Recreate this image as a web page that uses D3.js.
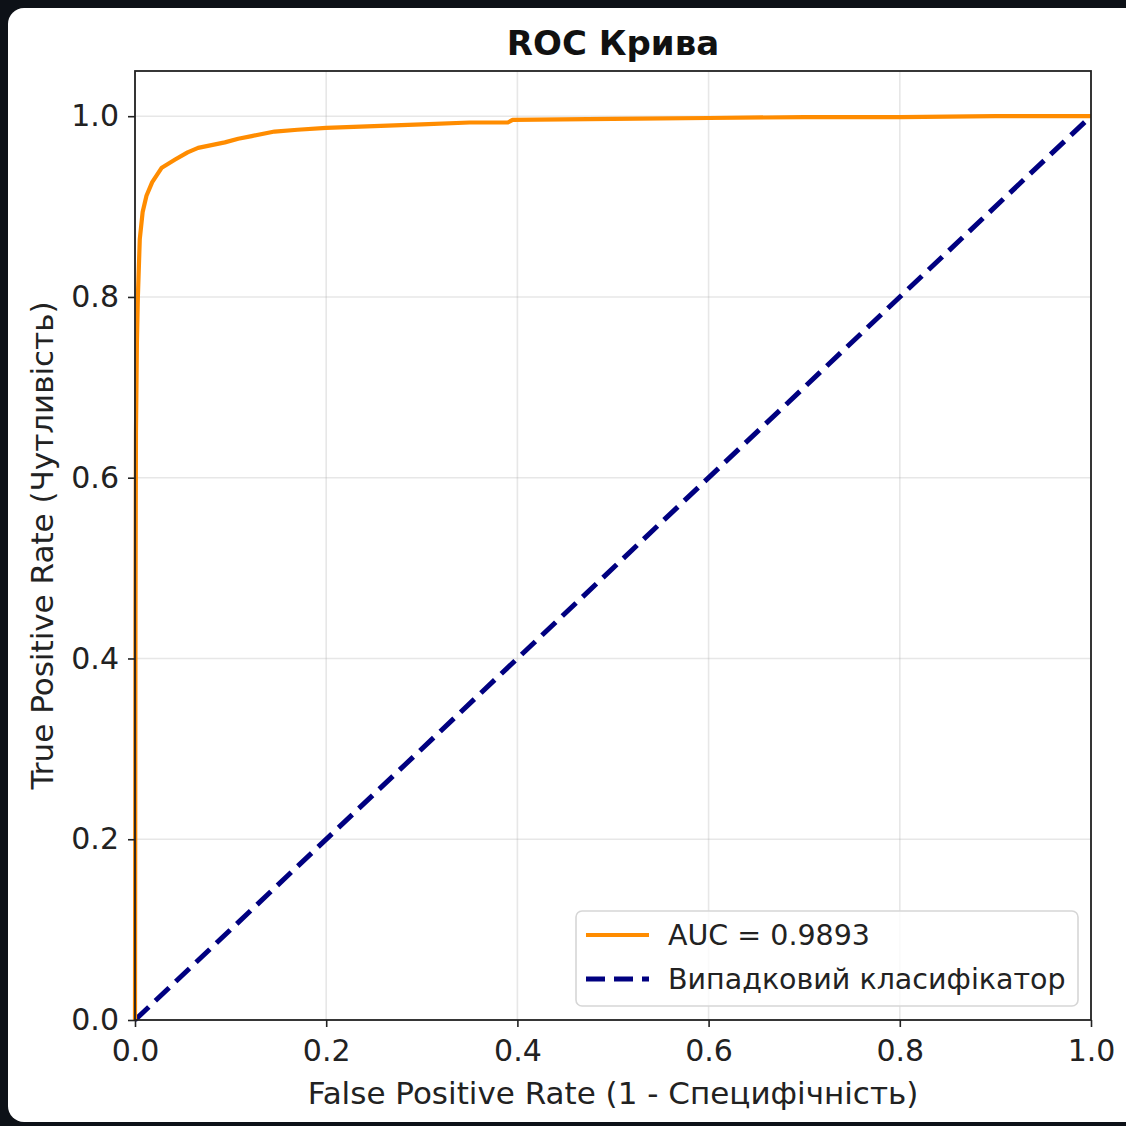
<!DOCTYPE html>
<html>
<head>
<meta charset="utf-8">
<script src="https://cdn.jsdelivr.net/npm/d3@7"></script>
<style>
  html, body { margin: 0; padding: 0; background: #0d1117; }
  svg { display: block; font-family: "DejaVu Sans", sans-serif; }
</style>
</head>
<body>
<div id="chart"></div>
<script>

// ROC curve points
const fpr = [0, 0.0005, 0.001, 0.002, 0.003, 0.005, 0.008, 0.012, 0.018, 0.028, 0.042, 0.055, 0.066, 0.08, 0.094, 0.108, 0.122, 0.146, 0.17, 0.2, 0.25, 0.3, 0.35, 0.39, 0.395, 0.5, 0.6, 0.7, 0.8, 0.9, 1.0];
const tpr = [0, 0.45, 0.65, 0.75, 0.80, 0.864, 0.894, 0.912, 0.927, 0.943, 0.952, 0.96, 0.965, 0.968, 0.971, 0.975, 0.978, 0.983, 0.985, 0.987, 0.989, 0.991, 0.993, 0.993, 0.996, 0.997, 0.998, 0.999, 0.999, 1.0, 1.0];

// random classifier diagonal
const diagX = [0, 1];
const diagY = [0, 1];

const xTicks = [0, 0.2, 0.4, 0.6, 0.8, 1.0];
const yTicks = [0, 0.2, 0.4, 0.6, 0.8, 1.0];

const legendLabels = ["AUC = 0.9893", "Випадковий класифікатор"];
const title = "ROC Крива";
const xLabel = "False Positive Rate (1 - Специфічність)";
const yLabel = "True Positive Rate (Чутливість)";

const W = 1126, H = 1126;
const margin = {left: 135, right: 35, top: 71, bottom: 106};

const svg = d3.select("#chart").append("svg")
	.attr("width", W)
	.attr("height", H);

// white card on dark background
svg.append("rect")
	.attr("x", 8).attr("y", 8)
	.attr("width", W + 20).attr("height", H - 12)
	.attr("rx", 16)
	.attr("fill", "#ffffff");

const sx = d3.scaleLinear()
	.domain([0, 1])
	.range([margin.left, W - margin.right]);

const sy = d3.scaleLinear()
	.domain([0, 1.05])
	.range([H - margin.bottom, margin.top]);

const plot = svg.append("g");

// grid
plot.append("g")
	.selectAll("line.gx")
	.data(xTicks)
	.join("line")
	.attr("x1", d => sx(d)).attr("x2", d => sx(d))
	.attr("y1", sy(0)).attr("y2", sy(1.05))
	.attr("stroke", "#b0b0b0").attr("stroke-opacity", 0.3).attr("stroke-width", 1.6);

plot.append("g")
	.selectAll("line.gy")
	.data(yTicks)
	.join("line")
	.attr("x1", sx(0)).attr("x2", sx(1))
	.attr("y1", d => sy(d)).attr("y2", d => sy(d))
	.attr("stroke", "#b0b0b0").attr("stroke-opacity", 0.3).attr("stroke-width", 1.6);

// diagonal
const line = d3.line().x(d => sx(d[0])).y(d => sy(d[1]));

plot.append("path")
	.datum(diagX.map((x, i) => [x, diagY[i]]))
	.attr("d", line)
	.attr("fill", "none")
	.attr("stroke", "#000080")
	.attr("stroke-width", 5)
	.attr("stroke-dasharray", "19,9");

// ROC curve
plot.append("path")
	.datum(fpr.map((x, i) => [x, tpr[i]]))
	.attr("d", line)
	.attr("fill", "none")
	.attr("stroke", "#ff8c00")
	.attr("stroke-width", 4.2)
	.attr("stroke-linejoin", "round");

// axes
const xAxis = d3.axisBottom(sx)
	.tickValues(xTicks)
	.tickFormat(d3.format(".1f"))
	.tickSize(7)
	.tickPadding(13);

const yAxis = d3.axisLeft(sy)
	.tickValues(yTicks)
	.tickFormat(d3.format(".1f"))
	.tickSize(7)
	.tickPadding(9);

const gx = svg.append("g")
	.attr("transform", `translate(0,${sy(0)})`)
	.call(xAxis);
const gy = svg.append("g")
	.attr("transform", `translate(${sx(0)},0)`)
	.call(yAxis);

[gx, gy].forEach(g => {
	g.select(".domain").remove();
	g.selectAll(".tick line").attr("stroke", "#222").attr("stroke-width", 1.6);
	g.selectAll(".tick text")
		.attr("fill", "#222")
		.style("font-size", "30px")
		.style("font-family", "DejaVu Sans");
});

// frame
svg.append("rect")
	.attr("x", sx(0)).attr("y", sy(1.05))
	.attr("width", sx(1) - sx(0))
	.attr("height", sy(0) - sy(1.05))
	.attr("fill", "none")
	.attr("stroke", "#222")
	.attr("stroke-width", 1.8);

// title and labels
svg.append("text")
	.attr("x", (sx(0) + sx(1)) / 2)
	.attr("y", 55)
	.attr("text-anchor", "middle")
	.style("font-size", "34px")
	.style("font-weight", "bold")
	.attr("fill", "#111")
	.text(title);

svg.append("text")
	.attr("x", (sx(0) + sx(1)) / 2)
	.attr("y", 1104)
	.attr("text-anchor", "middle")
	.style("font-size", "31px")
	.attr("fill", "#222")
	.text(xLabel);

svg.append("text")
	.attr("transform", `translate(53,${(sy(0) + sy(1.05)) / 2}) rotate(-90)`)
	.attr("text-anchor", "middle")
	.style("font-size", "31px")
	.attr("fill", "#222")
	.text(yLabel);

// legend
const lg = svg.append("g").attr("transform", "translate(576,911)");
lg.append("rect")
	.attr("width", 502).attr("height", 95)
	.attr("rx", 6)
	.attr("fill", "#ffffff").attr("fill-opacity", 0.8)
	.attr("stroke", "#d6d6d6").attr("stroke-width", 1.6);

const legendStyles = [
	{color: "#ff8c00", width: 4.2, dash: null},
	{color: "#000080", width: 5, dash: "19,9"}
];

legendLabels.forEach((label, i) => {
	const y = 24 + i * 44;
	lg.append("line")
		.attr("x1", 10).attr("x2", 73)
		.attr("y1", y).attr("y2", y)
		.attr("stroke", legendStyles[i].color)
		.attr("stroke-width", legendStyles[i].width)
		.attr("stroke-dasharray", legendStyles[i].dash);
	lg.append("text")
		.attr("x", 92).attr("y", y)
		.attr("dy", "0.35em")
		.style("font-size", "28.5px")
		.attr("fill", "#222")
		.text(label);
});
</script>
</body>
</html>
